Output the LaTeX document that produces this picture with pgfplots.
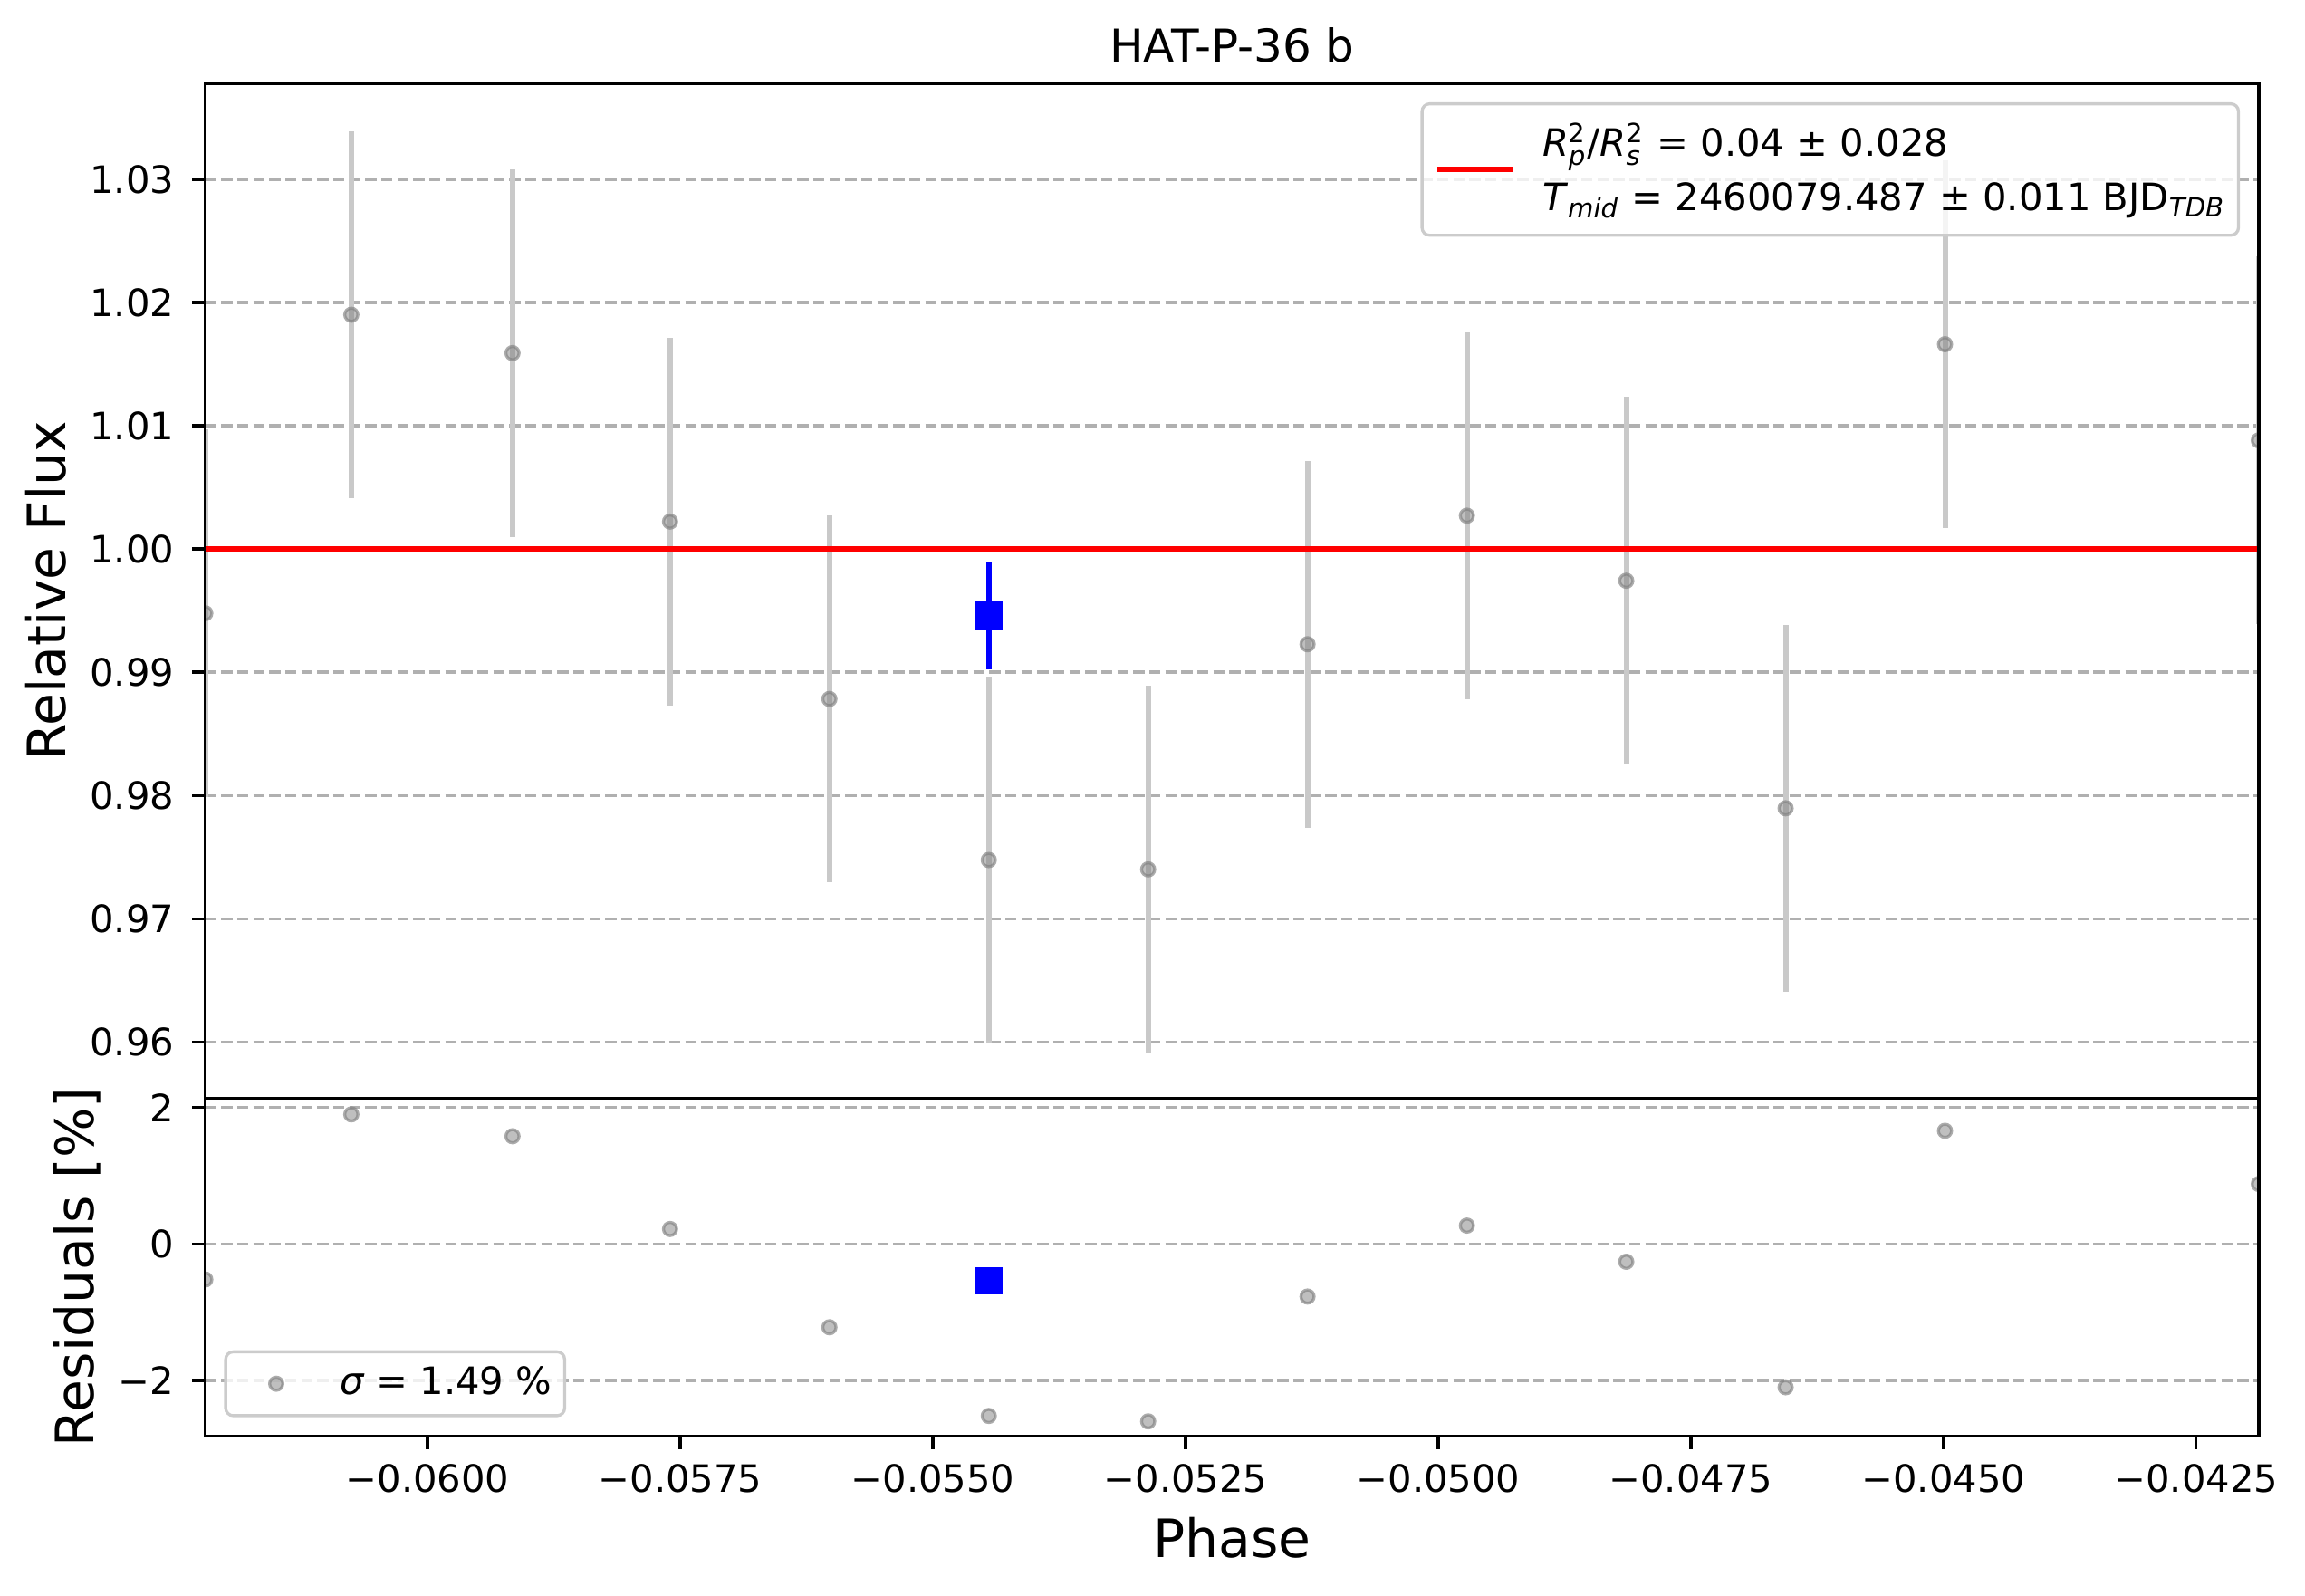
\documentclass[border=0pt]{standalone}
\usepackage{fontspec}
\setmainfont{DejaVu Sans}
\usepackage{amsmath}
\usepackage{pgfplots}
\pgfplotsset{compat=1.18}

\definecolor{gridgray}{HTML}{B0B0B0}
\definecolor{errgray}{HTML}{C9C9C9}
\definecolor{framegray}{HTML}{CCCCCC}

% phase, relative flux, error
\pgfplotstableread{
x          y        e
-0.062200  0.99478  0.0149
-0.060755  1.01900  0.0149
-0.059160  1.01589  0.0149
-0.057601  1.00222  0.0149
-0.056024  0.98783  0.0149
-0.054447  0.97476  0.0149
-0.052870  0.97400  0.0149
-0.051293  0.99227  0.0149
-0.049716  1.00270  0.0149
-0.048139  0.99742  0.0149
-0.046562  0.97896  0.0149
-0.044985  1.01661  0.0149
-0.041880  1.00881  0.0149
}\fluxdata

% phase, residual in percent
\pgfplotstableread{
x          r
-0.062200  -0.52
-0.060755   1.90
-0.059160   1.58
-0.057601   0.22
-0.056024  -1.22
-0.054447  -2.52
-0.052870  -2.60
-0.051293  -0.77
-0.049716   0.27
-0.048139  -0.26
-0.046562  -2.10
-0.044985   1.66
-0.041880   0.88
}\resdata

\pgfplotsset{
  mpl/.style={
    scale only axis, width=544.15pt,
    xmin=-0.06220, xmax=-0.04188,
    scaled x ticks=false, scaled y ticks=false,
    axis line style={line width=0.8pt},
    tick align=outside, tick pos=left,
    major tick length=3.5pt,
    every tick/.style={line width=0.8pt, black},
    ymajorgrids,
    grid style={line width=0.8pt, gridgray, dash pattern=on 2.96pt off 1.28pt},
    tick label style={font=\fontsize{10}{12}\selectfont},
    yticklabel style={anchor=east, inner sep=0pt, xshift=-4.6pt},
    label style={font=\fontsize{14}{17}\selectfont},
    clip marker paths=true,
    legend style={font=\fontsize{10}{12}\selectfont, draw=framegray, line width=0.8pt,
      rounded corners=2pt, fill=white, fill opacity=0.8, text opacity=1,
      inner xsep=3.4pt, inner ysep=4pt, column sep=7pt,
      nodes={inner sep=0pt}, cells={anchor=west}},
  },
  graypts/.style={only marks, mark=*, mark size=1.75pt,
    mark options={fill=gray, draw=gray, fill opacity=0.5, draw opacity=0.65, line width=0.8pt}},
}

\begin{document}
\begin{tikzpicture}

% main panel
\begin{axis}[mpl, name=top,
  at={(0pt,89.52pt)}, anchor=south west, height=268.87pt,
  ymin=0.95544, ymax=1.03777,
  xtick=\empty,
  ytick={0.96,0.97,0.98,0.99,1.00,1.01,1.02,1.03},
  yticklabels={0.96,0.97,0.98,0.99,1.00,1.01,1.02,1.03},
  ylabel={Relative Flux},
  ylabel shift=2.7pt,
  title={HAT-P-36 b},
  title style={font=\fontsize{12}{14}\selectfont, at={(0.5,1)}, anchor=base, inner sep=0pt, yshift=-0.3pt},
  legend style={at={(1,1)}, anchor=north east, xshift=-5pt, yshift=-5pt, inner ysep=5pt},
  legend image code/.code={\draw[#1, line width=1.5pt] (0pt,0pt) -- (20pt,0pt);},
]
\addplot[graypts, forget plot,
  error bars/.cd, y dir=both, y explicit, error mark=none,
  error bar style={line width=1.44pt, errgray, opacity=1}]
  table[x=x, y=y, y error=e] {\fluxdata};
\addplot[red, line width=1.5pt] coordinates {(-0.06220,1) (-0.04188,1)};
\addlegendentry{\begin{tabular}[b]{@{}l@{}}\textit{R}$^{\text{2}}_{\textit{p}}$/\textit{R}$^{\text{2}}_{\textit{s}}$ = 0.04 ± 0.028\\[2.5pt]\textit{T}$_{\textit{mid}}$ = 2460079.487 ± 0.011 BJD$_{\textit{TDB}}$\end{tabular}}
\addplot[only marks, mark=square*, mark size=3.45pt, color=blue, forget plot,
  error bars/.cd, y dir=both, y explicit, error mark=none,
  error bar style={line width=1.44pt, blue}]
  coordinates {(-0.054447,0.99459) +- (0,0.00437)};
\end{axis}
\draw[line width=0.8pt] (top.south west) rectangle (top.north east);

% residual panel
\begin{axis}[mpl, name=bot,
  at={(0pt,0pt)}, anchor=south west, height=89.52pt,
  ymin=-2.815, ymax=2.138,
  xtick={-0.06,-0.0575,-0.055,-0.0525,-0.05,-0.0475,-0.045,-0.0425},
  xticklabels={−0.0600,−0.0575,−0.0550,−0.0525,−0.0500,−0.0475,−0.0450,−0.0425},
  xticklabel style={anchor=base, inner sep=0pt, yshift=-11.5pt},
  ytick={-2,0,2},
  yticklabels={−2,0,2},
  xlabel={Phase},
  xlabel style={at={(0.5,0)}, anchor=base, inner sep=0pt, yshift=-32.3pt},
  ylabel={Residuals [\%]},
  ylabel shift=1.2pt,
  legend style={at={(0,0)}, anchor=south west, xshift=5pt, yshift=5pt},
  legend image code/.code={\path[draw=none, fill=none] (0pt,0pt) -- (20pt,0pt); \draw[#1] plot[only marks] coordinates {(10pt,0pt)};},
]
\addplot[graypts] table[x=x, y=r] {\resdata};
\addlegendentry{{\itshape σ} = 1.49 \%}
\addplot[only marks, mark=square*, mark size=3.45pt, color=blue, forget plot]
  coordinates {(-0.054447,-0.54)};
\end{axis}
\draw[line width=0.8pt] (bot.south west) rectangle (bot.north east);

\pgfresetboundingbox
\useasboundingbox (-54.4pt,-42.2pt) rectangle (556.4pt,380.5pt);
\end{tikzpicture}
\end{document}
